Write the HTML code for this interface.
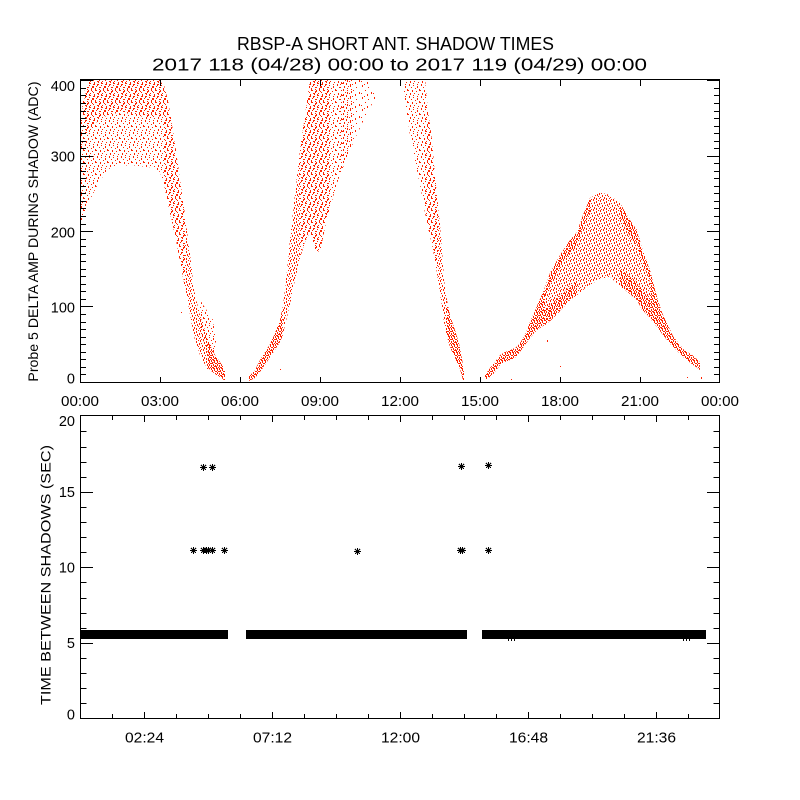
<!DOCTYPE html>
<html>
<head>
<meta charset="utf-8">
<style>
html,body{margin:0;padding:0;background:#fff;}
svg{display:block;}
text{font-family:"Liberation Sans",sans-serif;fill:#000;}
</style>
</head>
<body>
<svg xmlns="http://www.w3.org/2000/svg" width="800" height="800" viewBox="0 0 800 800">
<defs>
  <pattern id="p0" patternUnits="userSpaceOnUse" width="12" height="12">
    <path shape-rendering="crispEdges" fill="#ff2400" d="M2 1h1v2h-1zM8 3h1v1h-1zM5 6h1v1h-1zM11 8h1v2h-1zM1 9h1v1h-1zM7 10h1v2h-1zM4 0h1v1h-1z"/>
  </pattern>
  <pattern id="p1" patternUnits="userSpaceOnUse" width="12" height="12">
    <path shape-rendering="crispEdges" fill="#ff2400" d="M1 0h1v2h-1zM5 1h1v1h-1zM9 2h1v2h-1zM3 3h1v1h-1zM7 4h1v1h-1zM11 5h1v2h-1zM0 6h1v1h-1zM4 6h1v2h-1zM8 7h1v1h-1zM2 9h1v2h-1zM6 9h1v1h-1zM10 10h1v1h-1zM5 11h1v1h-1zM9 0h1v1h-1z"/>
  </pattern>
  <pattern id="p1b" patternUnits="userSpaceOnUse" x="6" y="5" width="12" height="12">
    <path shape-rendering="crispEdges" fill="#ff2400" d="M1 0h1v2h-1zM5 1h1v1h-1zM9 2h1v2h-1zM3 3h1v1h-1zM7 4h1v1h-1zM11 5h1v2h-1zM0 6h1v1h-1zM4 6h1v2h-1zM8 7h1v1h-1zM2 9h1v2h-1zM6 9h1v1h-1zM10 10h1v1h-1zM5 11h1v1h-1zM9 0h1v1h-1z"/>
  </pattern>
  <pattern id="p2" patternUnits="userSpaceOnUse" width="10" height="10">
    <path shape-rendering="crispEdges" fill="#ff2400" d="M0 0h1v2h-1zM3 0h1v1h-1zM6 1h1v2h-1zM8 0h1v1h-1zM1 3h1v1h-1zM4 2h1v2h-1zM9 3h1v2h-1zM2 5h1v2h-1zM5 5h1v1h-1zM7 4h1v2h-1zM0 7h1v1h-1zM4 7h1v2h-1zM8 6h1v1h-1zM6 8h1v2h-1zM9 8h1v1h-1zM1 9h1v1h-1zM3 9h1v1h-1z"/>
  </pattern>
  <pattern id="p2b" patternUnits="userSpaceOnUse" x="5" y="3" width="10" height="10">
    <path shape-rendering="crispEdges" fill="#ff2400" d="M0 0h1v2h-1zM3 0h1v1h-1zM6 1h1v2h-1zM8 0h1v1h-1zM1 3h1v1h-1zM4 2h1v2h-1zM9 3h1v2h-1zM2 5h1v2h-1zM5 5h1v1h-1zM7 4h1v2h-1zM0 7h1v1h-1zM4 7h1v2h-1zM8 6h1v1h-1zM6 8h1v2h-1zM9 8h1v1h-1zM1 9h1v1h-1zM3 9h1v1h-1z"/>
  </pattern>
  <pattern id="p3" patternUnits="userSpaceOnUse" width="8" height="8">
    <path shape-rendering="crispEdges" fill="#ff2400" d="M0 0h2v1h-2zM3 0h1v2h-1zM5 0h2v1h-2zM1 1h1v2h-1zM6 1h1v2h-1zM0 3h1v1h-1zM2 3h2v1h-2zM4 2h1v2h-1zM7 3h1v1h-1zM5 4h1v2h-1zM1 4h1v2h-1zM3 5h1v2h-1zM7 5h1v2h-1zM0 6h1v2h-1zM2 7h1v1h-1zM4 7h2v1h-2zM6 6h1v1h-1z"/>
  </pattern>
  <clipPath id="cp"><rect x="81" y="80" width="638" height="302"/></clipPath>
</defs>
<rect x="0" y="0" width="800" height="800" fill="#fff"/>

<!-- Titles -->
<text x="395.5" y="50" font-size="18" text-anchor="middle" textLength="317" lengthAdjust="spacingAndGlyphs">RBSP-A SHORT ANT. SHADOW TIMES</text>
<text x="399.5" y="70.5" font-size="17.5" text-anchor="middle" textLength="495" lengthAdjust="spacingAndGlyphs">2017 118 (04/28) 00:00 to 2017 119 (04/29) 00:00</text>

<!-- top panel scatter -->
<g clip-path="url(#cp)" shape-rendering="crispEdges">
  <!-- segment 1 -->
  <polygon fill="url(#p1)" points="80,125 84,92 90,79 160,79 164,85 168,100 172,125 176,150 180,180 185,215 185,288 180,262 176,240 172,222 168,205 164,185 160,172 155,168 140,166 120,165 110,168 100,180 90,200 84,215 80,230"/>
  <polygon fill="url(#p1b)" points="82,112 88,79 160,79 166,95 170,115 150,118 120,112 100,118 86,135"/>
  <polygon fill="url(#p1b)" points="164,85 168,100 172,125 176,150 180,180 185,215 185,288 180,262 176,240 172,222 168,205 164,185"/>
  <polygon fill="url(#p2)" points="185,215 190,255 195,295 200,315 205,330 208,339 208,368 205,365 200,355 195,340 190,315 185,288"/>
  <polygon fill="url(#p3)" points="208,339 210,345 215,355 220,362 224,368 225,372 225,381 224,380 220,377 215,374 210,370 208,368"/>
  <polygon fill="url(#p1)" points="200,300 213,320 216,340 213,365 205,345 200,330"/>
  <!-- segment 2 -->
  <polygon fill="url(#p3)" points="249,376 255,370 260,360 265,352 270,344 275,333 280,320 283,305 283,335 280,342 275,350 270,357 265,365 260,372 255,378 249,381"/>
  <polygon fill="url(#p2)" points="283,305 285,290 290,240 295,195 300,150 300,258 295,280 290,305 285,325 283,335"/>
  <polygon fill="url(#p1)" points="300,150 305,115 310,79 340,79 340,175 335,190 330,208 325,228 320,252 315,250 310,232 305,242 300,258"/>
  <polygon fill="url(#p1b)" points="300,150 305,115 310,79 330,79 330,208 325,228 320,252 315,250 310,232 305,242 300,258"/>
  <polygon fill="url(#p0)" points="340,79 368,79 375,88 375,100 368,110 360,128 350,150 340,175"/>
  <polygon fill="url(#p1b)" points="340,79 352,79 352,145 340,175"/>
  <!-- segment 3 -->
  <polygon fill="url(#p1)" points="404,79 425,79 428,110 432,140 435,175 438,205 438,280 435,260 432,245 428,228 425,213 420,185 415,160 410,135 407,115 404,95"/>
  <polygon fill="url(#p1b)" points="425,79 428,110 432,140 435,175 438,205 438,280 435,260 432,245 428,228 425,213"/>
  <polygon fill="url(#p2)" points="438,205 441,235 444,280 447,300 447,337 444,322 441,300 438,280"/>
  <polygon fill="url(#p3)" points="447,300 450,315 455,330 460,347 463,365 464,372 464,381 463,380 460,369 455,358 450,347 447,337"/>
  <!-- segment 4 -->
  <polygon fill="url(#p3)" points="485,375 490,368 495,362 500,355 505,352 510,350 515,348 520,343 525,335 530,322 537,306 543,292 545,287 545,325 543,326 537,330 530,338 525,345 520,352 515,358 510,360 505,362 500,365 495,372 490,377 485,380"/>
  <polygon fill="url(#p2)" points="545,287 550,273 560,255 570,240 577,232 583,215 590,198 600,192 610,195 620,203 630,220 637,230 642,248 650,270 650,318 642,310 637,300 630,294 620,286 610,277 600,279 590,285 583,290 577,295 570,300 560,311 550,321 545,325"/>
  <polygon fill="url(#p3)" points="650,270 657,297 663,315 673,336 683,349 692,355 700,362 700,370 692,364 683,357 673,347 663,335 657,327 650,318"/>
  <polygon fill="url(#p2b)" points="545,287 550,273 560,255 570,240 577,232 583,215 590,198 590,212 583,228 577,245 570,252 560,267 550,285 545,298"/>
  <polygon fill="url(#p2b)" points="620,286 630,294 637,300 642,310 650,318 650,300 642,290 637,282 630,276 620,270"/>
  <polygon fill="url(#p2b)" points="620,203 630,220 637,230 642,248 650,270 650,282 642,262 637,246 630,236 620,218"/>
  <polygon fill="url(#p2b)" points="545,310 550,305 560,296 570,286 577,282 577,295 570,300 560,311 550,321 545,325"/>
  <!-- strays -->
  <path fill="#ff2400" d="M181 312h1v1h-1zM207 368h1v1h-1zM280 369h1v1h-1zM547 340h1v2h-1zM560 366h1v1h-1zM511 379h1v1h-1zM687 377h1v1h-1zM701 377h1v2h-1zM463 378h1v1h-1z"/>
</g>

<!-- frames and ticks -->
<g stroke="#000" stroke-width="1" fill="none" shape-rendering="crispEdges">
  <rect x="80.5" y="79.5" width="639" height="303"/>
  <rect x="80.5" y="415.5" width="639" height="303"/>
  <path d="M80 374.5h6M80 367.5h6M80 359.5h6M80 352.5h6M80 344.5h6M80 337.5h6M80 329.5h6M80 322.5h6M80 314.5h6M80 306.5h13M80 299.5h6M80 291.5h6M80 284.5h6M80 276.5h6M80 269.5h6M80 261.5h6M80 254.5h6M80 246.5h6M80 239.5h6M80 231.5h13M80 224.5h6M80 216.5h6M80 208.5h6M80 201.5h6M80 193.5h6M80 186.5h6M80 178.5h6M80 171.5h6M80 163.5h6M80 156.5h13M80 148.5h6M80 141.5h6M80 133.5h6M80 126.5h6M80 118.5h6M80 111.5h6M80 103.5h6M80 95.5h6M80 88.5h6M80 80.5h13"/>
  <path d="M720 374.5h-6M720 367.5h-6M720 359.5h-6M720 352.5h-6M720 344.5h-6M720 337.5h-6M720 329.5h-6M720 322.5h-6M720 314.5h-6M720 306.5h-13M720 299.5h-6M720 291.5h-6M720 284.5h-6M720 276.5h-6M720 269.5h-6M720 261.5h-6M720 254.5h-6M720 246.5h-6M720 239.5h-6M720 231.5h-13M720 224.5h-6M720 216.5h-6M720 208.5h-6M720 201.5h-6M720 193.5h-6M720 186.5h-6M720 178.5h-6M720 171.5h-6M720 163.5h-6M720 156.5h-13M720 148.5h-6M720 141.5h-6M720 133.5h-6M720 126.5h-6M720 118.5h-6M720 111.5h-6M720 103.5h-6M720 95.5h-6M720 88.5h-6M720 80.5h-13"/>
  <path d="M160.5 383V377M240.5 383V377M320.5 383V377M400.5 383V377M480.5 383V377M560.5 383V377M640.5 383V377M160.5 80V86M240.5 80V86M320.5 80V86M400.5 80V86M480.5 80V86M560.5 80V86M640.5 80V86"/>
  <path d="M80 703.5h6.5M80 688.5h6.5M80 673.5h6.5M80 658.5h6.5M80 643.5h13M80 628.5h6.5M80 613.5h6.5M80 598.5h6.5M80 582.5h6.5M80 567.5h13M80 552.5h6.5M80 537.5h6.5M80 522.5h6.5M80 507.5h6.5M80 492.5h13M80 477.5h6.5M80 462.5h6.5M80 447.5h6.5M80 431.5h6.5"/>
  <path d="M720 703.5h-6.5M720 688.5h-6.5M720 673.5h-6.5M720 658.5h-6.5M720 643.5h-13M720 628.5h-6.5M720 613.5h-6.5M720 598.5h-6.5M720 582.5h-6.5M720 567.5h-13M720 552.5h-6.5M720 537.5h-6.5M720 522.5h-6.5M720 507.5h-6.5M720 492.5h-13M720 477.5h-6.5M720 462.5h-6.5M720 447.5h-6.5M720 431.5h-6.5"/>
  <path d="M112.5 718V714M144.5 718V712M176.5 718V714M208.5 718V714M240.5 718V714M272.5 718V712M304.5 718V714M336.5 718V714M368.5 718V714M400.5 718V712M432.5 718V714M464.5 718V714M496.5 718V714M528.5 718V712M560.5 718V714M592.5 718V714M624.5 718V714M656.5 718V712M688.5 718V714"/>
  <path d="M112.5 416V420M144.5 416V422M176.5 416V420M208.5 416V420M240.5 416V420M272.5 416V422M304.5 416V420M336.5 416V420M368.5 416V420M400.5 416V422M432.5 416V420M464.5 416V420M496.5 416V420M528.5 416V422M560.5 416V420M592.5 416V420M624.5 416V420M656.5 416V422M688.5 416V420"/>
</g>

<!-- Top y labels -->
<g font-size="14.5" text-anchor="end">
  <text x="75" y="91">400</text>
  <text x="75" y="161.7">300</text>
  <text x="75" y="237.7">200</text>
  <text x="75" y="312.7">100</text>
  <text x="75" y="383.3">0</text>
</g>
<!-- Top x labels -->
<g font-size="14.5" text-anchor="middle">
  <text x="80" y="406" textLength="38" lengthAdjust="spacingAndGlyphs">00:00</text>
  <text x="160" y="406" textLength="38" lengthAdjust="spacingAndGlyphs">03:00</text>
  <text x="240" y="406" textLength="38" lengthAdjust="spacingAndGlyphs">06:00</text>
  <text x="320" y="406" textLength="38" lengthAdjust="spacingAndGlyphs">09:00</text>
  <text x="400" y="406" textLength="38" lengthAdjust="spacingAndGlyphs">12:00</text>
  <text x="480" y="406" textLength="38" lengthAdjust="spacingAndGlyphs">15:00</text>
  <text x="560" y="406" textLength="38" lengthAdjust="spacingAndGlyphs">18:00</text>
  <text x="640" y="406" textLength="38" lengthAdjust="spacingAndGlyphs">21:00</text>
  <text x="720" y="406" textLength="38" lengthAdjust="spacingAndGlyphs">00:00</text>
</g>

<!-- Bottom y labels -->
<g font-size="14.5" text-anchor="end">
  <text x="75" y="426">20</text>
  <text x="75" y="497">15</text>
  <text x="75" y="572.7">10</text>
  <text x="75" y="648">5</text>
  <text x="75" y="719.3">0</text>
</g>
<!-- Bottom x labels -->
<g font-size="14.5" text-anchor="middle">
  <text x="144.5" y="742.7" textLength="39" lengthAdjust="spacingAndGlyphs">02:24</text>
  <text x="272.5" y="742.7" textLength="39" lengthAdjust="spacingAndGlyphs">07:12</text>
  <text x="400.5" y="742.7" textLength="39" lengthAdjust="spacingAndGlyphs">12:00</text>
  <text x="528.5" y="742.7" textLength="39" lengthAdjust="spacingAndGlyphs">16:48</text>
  <text x="656.5" y="742.7" textLength="39" lengthAdjust="spacingAndGlyphs">21:36</text>
</g>

<!-- Y axis titles -->
<text transform="translate(38,231.6) rotate(-90)" font-size="14" text-anchor="middle" textLength="300" lengthAdjust="spacingAndGlyphs">Probe 5 DELTA AMP DURING SHADOW (ADC)</text>
<text transform="translate(50.5,575) rotate(-90)" font-size="14" text-anchor="middle" textLength="260" lengthAdjust="spacingAndGlyphs">TIME BETWEEN SHADOWS (SEC)</text>

<!-- Bottom panel data -->
<g fill="#000" shape-rendering="crispEdges">
  <rect x="80" y="630" width="148" height="9"/>
  <rect x="246" y="630" width="221" height="9"/>
  <rect x="482" y="630" width="224" height="9"/>
  <rect x="508" y="639" width="1" height="2"/>
  <rect x="511" y="639" width="1" height="2"/>
  <rect x="514" y="639" width="1" height="2"/>
  <rect x="683" y="639" width="1" height="2"/>
  <rect x="686" y="639" width="1" height="2"/>
  <rect x="689" y="639" width="1" height="2"/>
</g>
<path stroke="#000" stroke-width="1" fill="none" shape-rendering="crispEdges" d="M200 467.5h7m-3.5 -3.5v7m-2.5 -1l5 -5m-5 0l5 5M209 467.5h7m-3.5 -3.5v7m-2.5 -1l5 -5m-5 0l5 5M458 466.5h7m-3.5 -3.5v7m-2.5 -1l5 -5m-5 0l5 5M485 465.5h7m-3.5 -3.5v7m-2.5 -1l5 -5m-5 0l5 5M190 550.5h7m-3.5 -3.5v7m-2.5 -1l5 -5m-5 0l5 5M200 550.5h7m-3.5 -3.5v7m-2.5 -1l5 -5m-5 0l5 5M203 550.5h7m-3.5 -3.5v7m-2.5 -1l5 -5m-5 0l5 5M205 550.5h7m-3.5 -3.5v7m-2.5 -1l5 -5m-5 0l5 5M209 550.5h7m-3.5 -3.5v7m-2.5 -1l5 -5m-5 0l5 5M221 550.5h7m-3.5 -3.5v7m-2.5 -1l5 -5m-5 0l5 5M354 551.5h7m-3.5 -3.5v7m-2.5 -1l5 -5m-5 0l5 5M457 550.5h7m-3.5 -3.5v7m-2.5 -1l5 -5m-5 0l5 5M459 550.5h7m-3.5 -3.5v7m-2.5 -1l5 -5m-5 0l5 5M485 550.5h7m-3.5 -3.5v7m-2.5 -1l5 -5m-5 0l5 5"/>
</svg>
</body>
</html>
